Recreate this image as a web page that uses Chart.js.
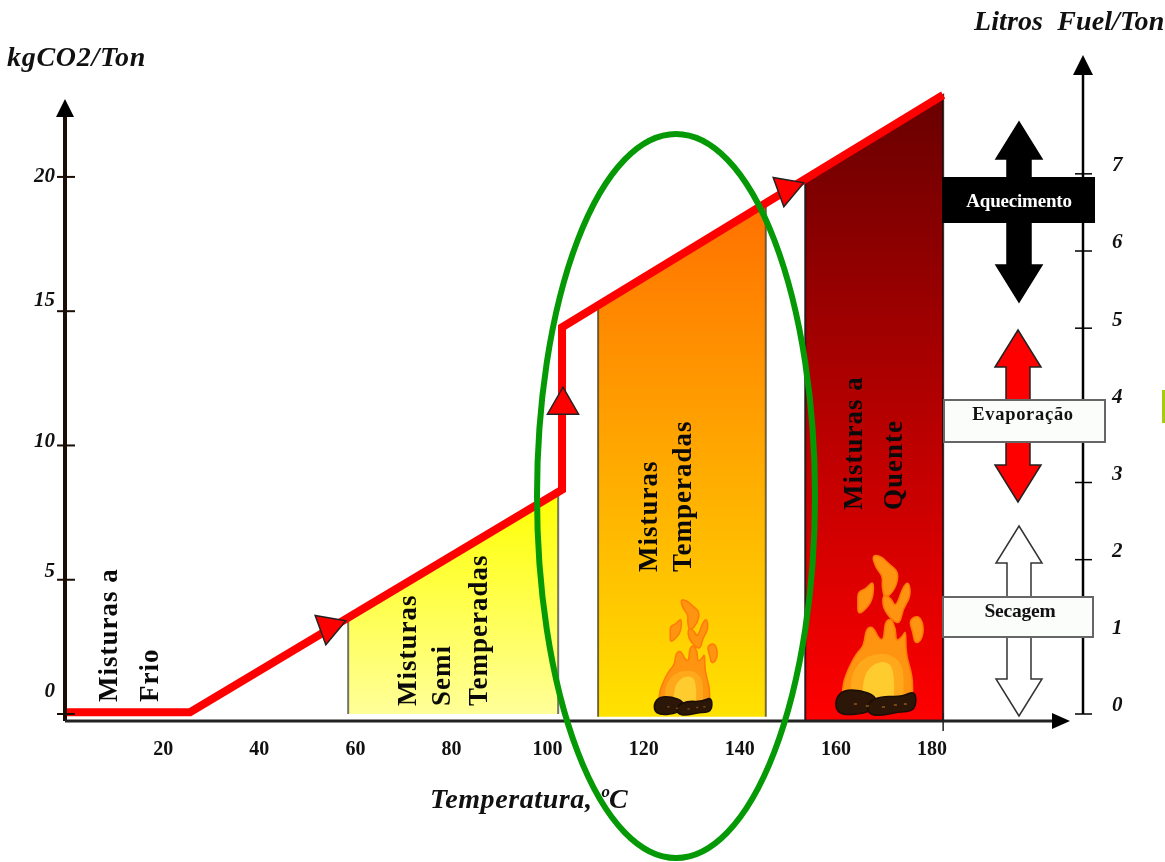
<!DOCTYPE html>
<html>
<head>
<meta charset="utf-8">
<title>Temperatura de fabrico das misturas</title>
<script src="https://cdn.jsdelivr.net/npm/chart.js@4"></script>
<style>
  html, body { margin: 0; padding: 0; background: #fff; }
  canvas { display: block; filter: blur(0.5px); }
</style>
</head>
<body>
<canvas id="chart" width="1165" height="862"></canvas>
<script>
// Values
const xTicks = [20, 40, 60, 80, 100, 120, 140, 160, 180];
const leftTicks = [0, 5, 10, 15, 20];
const rightTicks = [0, 1, 2, 3, 4, 5, 6, 7];

const curveX = [-0.4, 25.6, 103, 103, 182.3];
const curveY = [0.07, 0.07, 8.35, 14.4, 23.05];

const semiX = [58.5, 58.5, 102.2, 102.2];
const semiY = [0, 3.58, 8.3, 0];
const temperedX = [110.5, 110.5, 145.4, 145.4];
const temperedY = [-0.1, 15.2, 19, -0.1];
const hotX = [153.6, 153.6, 182.3, 182.3];
const hotY = [-0.26, 19.9, 23.05, -0.26];

const markerX = [54.5, 103.2, 149.8];
const markerY = [3.24, 11.5, 19.55];
const markerAngle = [190, 0, 190];

// Tick labels in the picture do not sit evenly above their ticks
const leftLabelShift = [-22, -8, -4, -11, 0];

const zip = (xs, ys) => xs.map((x, i) => ({ x: x, y: ys[i] }));
const serif = '"Liberation Serif"';

function bandGradient(top, bottom, colors) {
  return function (context) {
    const { ctx, scales, chartArea } = context.chart;
    if (!chartArea) return colors[0]; // not laid out yet
    const g = ctx.createLinearGradient(0, scales.y.getPixelForValue(top), 0, scales.y.getPixelForValue(bottom));
    g.addColorStop(0, colors[0]);
    g.addColorStop(1, colors[1]);
    return g;
  };
}

function band(label, xs, ys, colors, edge) {
  return {
    label: label,
    data: zip(xs, ys),
    showLine: true,
    borderColor: edge,
    borderWidth: 2,
    fill: { value: ys[0] },
    backgroundColor: bandGradient(Math.max(...ys), ys[0], colors),
    pointRadius: 0,
    tension: 0
  };
}

function text(ctx, str, x, y, font, color, align, spacing) {
  ctx.font = font;
  ctx.fillStyle = color;
  ctx.textAlign = align || 'left';
  ctx.textBaseline = 'alphabetic';
  ctx.letterSpacing = spacing || '0px';
  ctx.fillText(str, x, y);
  ctx.letterSpacing = '0px';
}

function upText(ctx, str, x, y) {
  ctx.save();
  ctx.translate(x, y);
  ctx.rotate(-Math.PI / 2);
  text(ctx, str, 0, 0, 'bold 27px ' + serif, '#0a0a0a', 'left', '1px');
  ctx.restore();
}

// Double headed vertical arrow
function doubleArrow(ctx, cx, top, bottom, fill, stroke) {
  const head = 23, shaft = 12, len = 37;
  ctx.beginPath();
  ctx.moveTo(cx, top);
  ctx.lineTo(cx + head, top + len);
  ctx.lineTo(cx + shaft, top + len);
  ctx.lineTo(cx + shaft, bottom - len);
  ctx.lineTo(cx + head, bottom - len);
  ctx.lineTo(cx, bottom);
  ctx.lineTo(cx - head, bottom - len);
  ctx.lineTo(cx - shaft, bottom - len);
  ctx.lineTo(cx - shaft, top + len);
  ctx.lineTo(cx - head, top + len);
  ctx.closePath();
  ctx.fillStyle = fill;
  ctx.fill();
  ctx.lineWidth = 1.5;
  ctx.strokeStyle = stroke;
  ctx.stroke();
}

function labelBox(ctx, x0, y0, x1, y1, fill, stroke) {
  ctx.fillStyle = fill;
  ctx.fillRect(x0, y0, x1 - x0, y1 - y0);
  ctx.lineWidth = 2;
  ctx.strokeStyle = stroke;
  ctx.strokeRect(x0, y0, x1 - x0, y1 - y0);
}

function axisArrow(ctx, tipX, tipY, dx, dy, half) {
  ctx.beginPath();
  ctx.moveTo(tipX, tipY);
  ctx.lineTo(tipX + dx + dy * half / 18, tipY + dy + dx * half / 18);
  ctx.lineTo(tipX + dx - dy * half / 18, tipY + dy - dx * half / 18);
  ctx.closePath();
  ctx.fillStyle = '#000';
  ctx.fill();
}

// Rounded blob through the midpoints of the outline
function blob(ctx, pts, ox, oy, k, fill, stroke) {
  const p = pts.map(q => [ox + q[0] * k, oy + q[1] * k]);
  ctx.beginPath();
  const n = p.length;
  ctx.moveTo((p[n - 1][0] + p[0][0]) / 2, (p[n - 1][1] + p[0][1]) / 2);
  for (let i = 0; i < n; i++) {
    const nx = p[(i + 1) % n];
    ctx.quadraticCurveTo(p[i][0], p[i][1], (p[i][0] + nx[0]) / 2, (p[i][1] + nx[1]) / 2);
  }
  ctx.closePath();
  ctx.fillStyle = fill;
  ctx.fill();
  if (stroke) {
    ctx.lineWidth = 1.5;
    ctx.strokeStyle = stroke;
    ctx.stroke();
  }
}

// Campfire, outlines measured around the centre of the logs, base at y = 0
function fire(ctx, cx, base, k) {
  const orange = '#ff9410', edge = '#ff7a08';
  const outer = [[-34, -24], [-30, -40], [-20, -60], [-12, -68], [-10, -85], [-3, -88], [3, -75], [8, -74], [9, -92], [15, -96], [20, -85], [20, -72], [27, -78], [30, -84], [30, -60], [36, -40], [37, -25], [36, -8], [24, -3], [-16, -3], [-32, -8]];
  const middle = [[-26, -18], [-24, -42], [-12, -56], [0, -60], [14, -60], [27, -50], [28, -25], [27, -8], [10, -5], [-18, -5]];
  const core = [[-14, -12], [-12, -40], [0, -52], [15, -52], [19, -32], [17, -8], [2, -6]];
  const flying = [
    [[-4, -159], [5, -158], [13, -150], [23, -142], [20, -126], [9, -114], [6, -128], [7, -138], [0, -146]],
    [[-18, -122], [-10, -125], [-2, -134], [-3, -114], [-12, -103], [-18, -100], [-18, -112]],
    [[7, -120], [15, -116], [20, -106], [27, -127], [33, -133], [35, -118], [27, -105], [24, -90], [16, -94], [7, -106]],
    [[33, -94], [43, -99], [48, -88], [46, -74], [39, -70], [37, -82]]
  ];
  flying.forEach(f => blob(ctx, f, cx, base, k, orange, edge));
  blob(ctx, outer, cx, base, k, orange, edge);
  blob(ctx, middle, cx, base, k, '#ffa81c');
  blob(ctx, core, cx, base, k, '#ffcc30');
  const logs = [
    [[-40, -16], [-32, -24], [-16, -24], [0, -18], [2, -6], [-14, 0], [-32, 1], [-40, -4]],
    [[-8, -12], [6, -18], [26, -17], [40, -24], [40, -3], [22, -2], [4, 2], [-8, 0]]
  ];
  logs.forEach(l => blob(ctx, l, cx, base, k, '#2c1608', '#1a0d04'));
  [[-22, -11], [-10, -9], [6, -8], [18, -10], [28, -11]].forEach(s => {
    ctx.fillStyle = '#7a4a14';
    ctx.fillRect(cx + s[0] * k, base + s[1] * k, 3 * k, 2 * k);
  });
}

// Axes, arrows, captions and the ellipse
const decorations = {
  id: 'decorations',
  beforeDraw(chart) {
    // per-tick shift of the left labels
    chart.scales.y.getLabelItems().forEach((item, i) => {
      item.options.translation[1] += leftLabelShift[i];
    });
  },
  afterDatasetsDraw(chart) {
    const { ctx, scales } = chart;
    const { x, y, y2 } = scales;
    const left = x.getPixelForValue(x.min);
    const right = y2.left;
    const axisY = x.top;

    ctx.save();
    ctx.strokeStyle = '#000';

    // fire in the two hot bands
    fire(ctx, x.getPixelForValue(168.3), y.getPixelForValue(0), 1);
    fire(ctx, x.getPixelForValue(128.2), y.getPixelForValue(0), 0.72);

    // rotated captions
    upText(ctx, 'Misturas a', 117, 702);
    upText(ctx, 'Frio', 158, 702);
    upText(ctx, 'Misturas', 416, 706);
    upText(ctx, 'Semi', 450, 706);
    upText(ctx, 'Temperadas', 487, 706);
    upText(ctx, 'Misturas', 657, 572);
    upText(ctx, 'Temperadas', 691, 572);
    upText(ctx, 'Misturas a', 862, 510);
    upText(ctx, 'Quente', 902, 510);

    // left axis
    ctx.lineWidth = 4;
    ctx.beginPath();
    ctx.moveTo(left, axisY);
    ctx.lineTo(left, 112);
    ctx.stroke();
    axisArrow(ctx, left, 99, 0, 18, 9);
    ctx.lineWidth = 2;
    leftTicks.forEach(v => {
      const py = y.getPixelForValue(v);
      ctx.beginPath();
      ctx.moveTo(left - 8, py);
      ctx.lineTo(left + 10, py);
      ctx.stroke();
    });

    // bottom axis
    ctx.lineWidth = 3;
    ctx.strokeStyle = '#222';
    ctx.beginPath();
    ctx.moveTo(left, axisY);
    ctx.lineTo(1056, axisY);
    ctx.stroke();
    axisArrow(ctx, 1070, axisY, -18, 0, 8);
    ctx.lineWidth = 1.5;
    ctx.beginPath();
    ctx.moveTo(x.getPixelForValue(hotX[3]), axisY - 8);
    ctx.lineTo(x.getPixelForValue(hotX[3]), axisY + 10);
    ctx.stroke();

    // right axis
    ctx.strokeStyle = '#000';
    ctx.lineWidth = 2.5;
    ctx.beginPath();
    ctx.moveTo(right, y2.getPixelForValue(0));
    ctx.lineTo(right, 70);
    ctx.stroke();
    axisArrow(ctx, right, 55, 0, 20, 9);
    ctx.lineWidth = 1.5;
    rightTicks.forEach(v => {
      const py = y2.getPixelForValue(v);
      ctx.beginPath();
      ctx.moveTo(right - 8, py);
      ctx.lineTo(right + 9, py);
      ctx.stroke();
    });

    // process arrows with their boxes
    doubleArrow(ctx, 1019, 122, 302, '#000', '#000');
    doubleArrow(ctx, 1018, 330, 502, '#ff0000', '#222');
    doubleArrow(ctx, 1019, 526, 716, '#fff', '#333');
    labelBox(ctx, 943, 178, 1094, 222, '#000', '#000');
    text(ctx, 'Aquecimento', 1019, 207, 'bold 19px ' + serif, '#fff', 'center', '-0.2px');
    labelBox(ctx, 944, 400, 1105, 442, '#fbfdfb', '#666');
    text(ctx, 'Evaporação', 1023, 420, 'bold 18.5px ' + serif, '#111', 'center', '0.7px');
    labelBox(ctx, 943, 597, 1093, 637, '#fbfdfb', '#666');
    text(ctx, 'Secagem', 1020, 617, 'bold 19.5px ' + serif, '#111', 'center', '-0.2px');

    // axis captions
    text(ctx, 'kgCO2/Ton', 7, 66, 'italic bold 28px ' + serif, '#111', 'left', '0.7px');
    text(ctx, 'Litros  Fuel/Ton', 974, 30, 'italic bold 28px ' + serif, '#111', 'left', '0.1px');
    text(ctx, 'Temperatura, ºC', 430, 808, 'italic bold 28px ' + serif, '#111', 'left', '0.6px');

    // highlight around the tempered band
    ctx.strokeStyle = '#059a05';
    ctx.lineWidth = 6;
    ctx.beginPath();
    ctx.ellipse(676, 496, 139, 362, 0, 0, Math.PI * 2);
    ctx.stroke();

    // stray mark at the right edge
    ctx.fillStyle = '#a4cc10';
    ctx.fillRect(1162, 390, 3, 33);

    ctx.restore();
  }
};

new Chart(document.getElementById('chart').getContext('2d'), {
  type: 'scatter',
  data: {
    datasets: [
      {
        label: 'Marcadores',
        data: zip(markerX, markerY),
        showLine: false,
        pointStyle: 'triangle',
        pointRadius: 18,
        pointRotation: markerAngle,
        pointBackgroundColor: '#ff0000',
        pointBorderColor: '#222',
        pointBorderWidth: 1.5
      },
      {
        label: 'kgCO2/Ton',
        data: zip(curveX, curveY),
        showLine: true,
        borderColor: '#ff0000',
        borderWidth: 8,
        borderJoinStyle: 'miter',
        borderCapStyle: 'butt',
        pointRadius: 0,
        tension: 0
      },
      band('Misturas Semi Temperadas', semiX, semiY, ['#ffff00', '#ffff99'], 'rgba(70,70,70,0.75)'),
      band('Misturas Temperadas', temperedX, temperedY, ['#ff7000', '#ffe200'], 'rgba(70,60,30,0.75)'),
      band('Misturas a Quente', hotX, hotY, ['#680000', '#ff0000'], 'rgba(20,10,10,0.85)')
    ]
  },
  options: {
    responsive: false,
    animation: false,
    devicePixelRatio: 1,
    layout: { padding: { top: 55 } },
    plugins: { legend: { display: false }, tooltip: { enabled: false } },
    scales: {
      x: {
        type: 'linear',
        min: -0.42,
        max: 211.4,
        grid: { display: false },
        border: { display: false },
        afterFit: s => { s.height = 862 - 721; },
        afterBuildTicks: s => { s.ticks = xTicks.map(v => ({ value: v })); },
        ticks: {
          autoSkip: false,
          maxRotation: 0,
          padding: 9,
          color: '#111',
          font: { family: serif, size: 20, weight: 'bold' }
        }
      },
      y: {
        position: 'left',
        min: -0.26,
        max: 24.54,
        grid: { display: false },
        border: { display: false },
        afterFit: s => { s.width = 65; },
        afterBuildTicks: s => { s.ticks = leftTicks.map(v => ({ value: v })); },
        ticks: {
          padding: 2,
          color: '#111',
          callback: v => String(v),
          font: { family: serif, size: 21, weight: 'bold', style: 'italic' }
        }
      },
      y2: {
        position: 'right',
        min: -0.0907,
        max: 8.54,
        grid: { display: false },
        border: { display: false },
        afterFit: s => { s.width = 1165 - 1083; },
        afterBuildTicks: s => { s.ticks = rightTicks.map(v => ({ value: v })); },
        ticks: {
          padding: 21,
          labelOffset: -8,
          color: '#111',
          callback: v => String(v),
          font: { family: serif, size: 21, weight: 'bold', style: 'italic' }
        }
      }
    }
  },
  plugins: [decorations]
});
</script>
</body>
</html>
